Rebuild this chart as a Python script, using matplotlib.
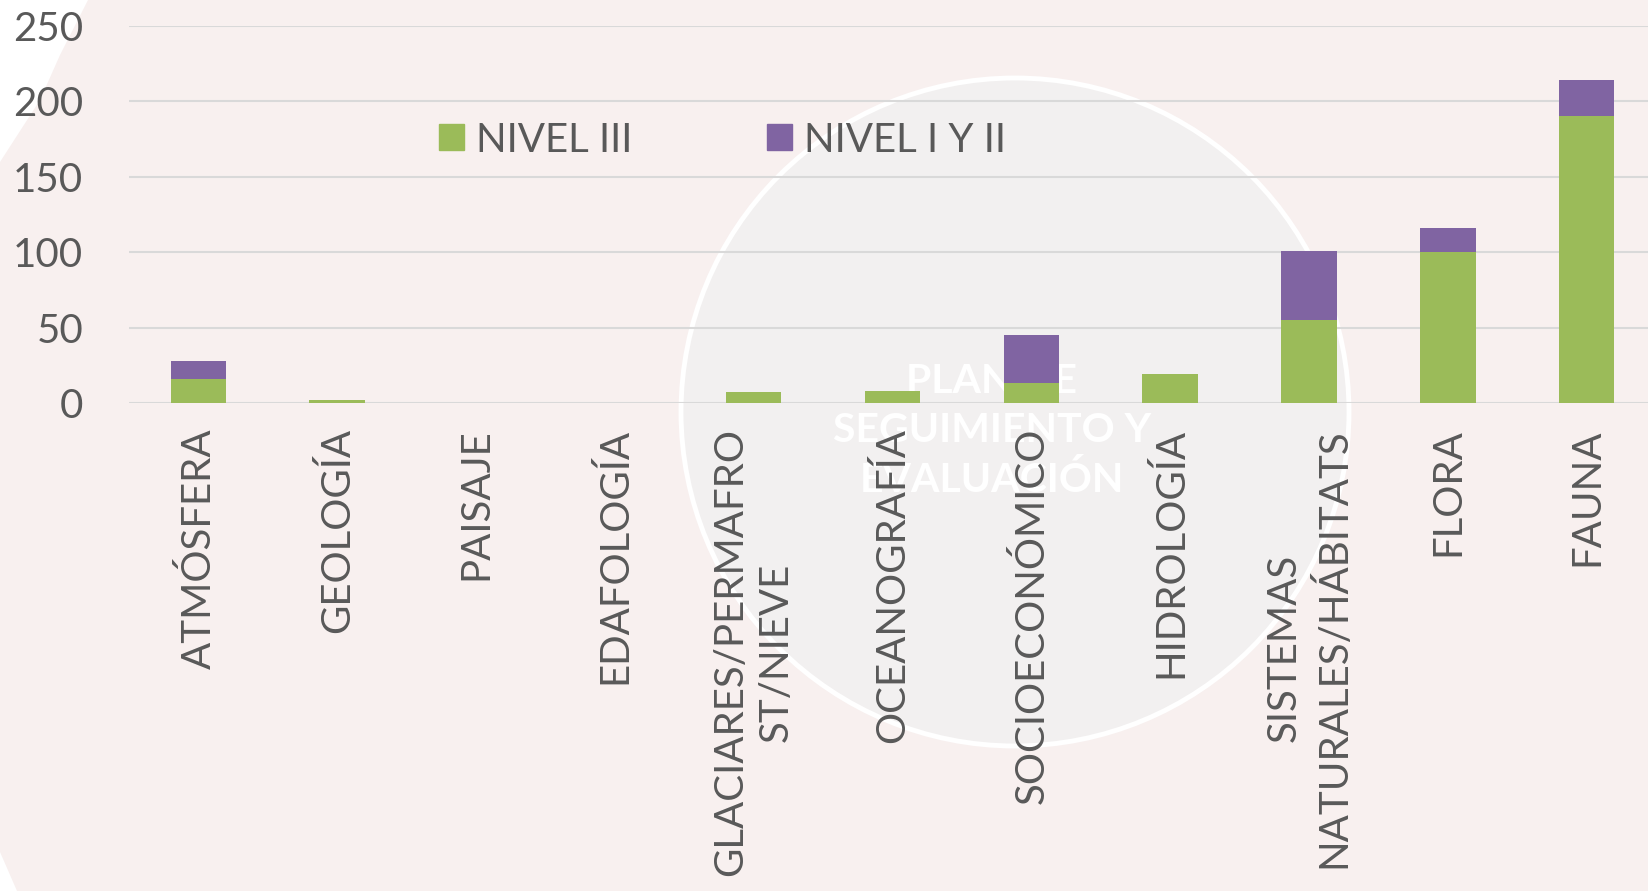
import matplotlib
matplotlib.use("Agg")
import matplotlib.pyplot as plt
from matplotlib.patches import Ellipse, Polygon, Patch

# Data
categories = ["ATMÓSFERA", "GEOLOGÍA", "PAISAJE", "EDAFOLOGÍA",
              "GLACIARES/PERMAFRO\nST/NIEVE", "OCEANOGRAFÍA", "SOCIOECONÓMICO",
              "HIDROLOGÍA", "SISTEMAS\nNATURALES/HÁBITATS", "FLORA", "FAUNA"]
nivel_iii = [16, 2, 0, 0, 7, 8, 13, 19, 55, 100, 190]
nivel_i_ii = [12, 0, 0, 0, 0, 0, 32, 0, 46, 16, 24]
y_ticks = [0, 50, 100, 150, 200, 250]

GREEN = "#9BBB59"
PURPLE = "#8064A2"
TEXT = "#595959"
PINK = "#F8F0EF"

plt.rcParams['font.family'] = ['Lato', 'DejaVu Sans']

W, H = 1649, 891
fig = plt.figure(figsize=(W / 100, H / 100), dpi=100, facecolor=PINK)

# white corners of the background shape (figure pixels, y from top)
def px(pts):
    return [(x / W, 1 - y / H) for x, y in pts]

fig.add_artist(Polygon(px([(0, 0), (88, 0), (60, 55), (40, 100), (0, 162)]),
                       closed=True, transform=fig.transFigure,
                       facecolor="white", edgecolor="none", zorder=-3))
fig.add_artist(Polygon(px([(0, 852), (17, 891), (0, 891)]),
                       closed=True, transform=fig.transFigure,
                       facecolor="white", edgecolor="none", zorder=-3))

# big circle with watermark text behind the plot
r = 334
fig.add_artist(Ellipse((1015 / W, 1 - 412 / H), 2 * r / W, 2 * r / H,
                       transform=fig.transFigure, facecolor="#F2F0F0",
                       edgecolor="white", linewidth=3.5, zorder=-2))
fig.text(992 / W, 1 - 431 / H, "PLAN DE\nSEGUIMIENTO Y\nEVALUACIÓN",
         ha="center", va="center", multialignment="center",
         color="white", fontsize=29.5, fontweight="bold", linespacing=1.38,
         zorder=-1)

ax = fig.add_axes([129 / W, 1 - 403 / H, (1656 - 129) / W, (403 - 26) / H])
ax.set_facecolor("none")

x = range(len(categories))
ax.bar(x, nivel_iii, width=0.4, color=GREEN, zorder=3)
ax.bar(x, nivel_i_ii, width=0.4, bottom=nivel_iii, color=PURPLE, zorder=3)

ax.set_xlim(-0.5, len(categories) - 0.5)
ax.set_ylim(0, 250)
ax.set_yticks(y_ticks)
ax.yaxis.grid(True, color="#D9D9D9", linewidth=1.5, zorder=0)
ax.set_axisbelow(True)
for s in ax.spines.values():
    s.set_visible(False)

ax.tick_params(axis="y", length=0, pad=33, labelsize=29, labelcolor=TEXT)
ax.tick_params(axis="x", length=0, pad=18, labelsize=29, labelcolor=TEXT)
ax.set_xticks(list(x))
ax.set_xticklabels(categories, rotation=90, ha="center", va="top",
                   multialignment="center", linespacing=1.3)

handles = [Patch(color=GREEN, label="NIVEL III"),
           Patch(color=PURPLE, label="NIVEL I Y II")]
fig.legend(handles=handles, ncol=2, loc="center left",
           bbox_to_anchor=(439 / W, 1 - 140 / H), frameon=False,
           fontsize=29, labelcolor=TEXT, handlelength=0.62, handleheight=0.62,
           handletextpad=0.3, columnspacing=3.35, borderpad=0, borderaxespad=0)

plt.savefig("out.png", dpi=100, facecolor=PINK)
